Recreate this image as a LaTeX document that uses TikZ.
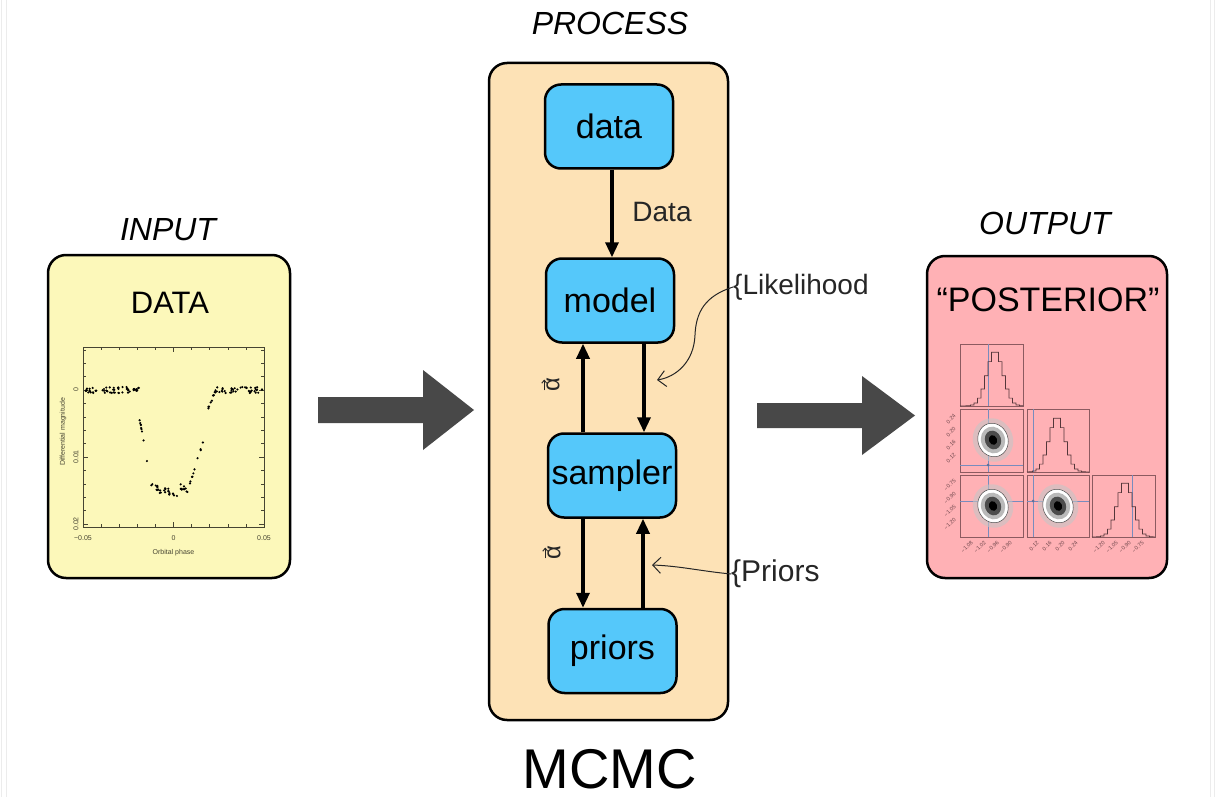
\documentclass[tikz,border=0pt]{standalone}
\usepackage{fontspec}
\setmainfont{Liberation Sans}
\usetikzlibrary{arrows.meta,calc}
\definecolor{inyel}{RGB}{252,248,186}
\definecolor{procpeach}{RGB}{253,226,182}
\definecolor{boxblue}{RGB}{85,200,250}
\definecolor{outpink}{RGB}{255,177,181}
\definecolor{bigarrow}{RGB}{72,72,72}
\definecolor{axol}{RGB}{70,68,50}
\definecolor{cornerred}{RGB}{140,90,96}
\definecolor{truthblue}{RGB}{120,140,190}
\newcommand\cornerhist[4]{%
  \draw[cornerred!60!black, line width=0.6pt] (#1,#3)
    \foreach \k in {-8,...,7} {
      -- ({#4+\k*3.5}, {#3-55*exp(-((\k+0.5)*3.5)^2/(2*64))})
      -- ({#4+(\k+1)*3.5}, {#3-55*exp(-((\k+0.5)*3.5)^2/(2*64))}) }
    -- (#2,#3);}
\newcommand\cornerblob[2]{%
  \begin{scope}[shift={(#1,#2)}, rotate=20]
    \fill[gray!45, opacity=0.6] (0,0) ellipse (20 and 22);
    \fill[white, draw=black!70, line width=0.5pt] (0,0) ellipse (15 and 17);
    \fill[gray!55] (0,0) ellipse (12 and 13.5);
    \fill[black!70] (0,0) ellipse (8 and 9.5);
    \fill[black] (0,0) ellipse (4 and 5);
  \end{scope}}
\tikzset{
  outer/.style={draw=black, line width=2.5pt, rounded corners=18pt, inner sep=0pt},
  stepbox/.style={draw=black, line width=2.5pt, rounded corners=16pt, fill=boxblue,
    minimum width=128pt, minimum height=84pt, inner sep=0pt,
    font=\fontsize{34}{34}\selectfont},
  conn/.style={line width=3.3pt, -{Triangle[length=15pt,width=13pt]}},
  title/.style={font=\fontsize{32}{32}\selectfont\itshape, anchor=base},
  hand/.style={font=\fontsize{28}{28}\selectfont, text=black!85, inner sep=0pt},
  handline/.style={line width=1pt, black!85, -{Straight Barb[length=8pt,width=16pt]}},
  alph/.style={font=\fontsize{24}{24}\selectfont, text=black!85, inner sep=2pt, rotate=90},
  tiny/.style={font=\fontsize{7}{7}\selectfont, text=axol, inner sep=0pt},
  ctick/.style={font=\fontsize{5.5}{5.5}\selectfont, text=cornerred!80!black, inner sep=0pt, rotate=45},
}
\begin{document}
\begin{tikzpicture}[x=1pt,y=-1pt]
\useasboundingbox (0,0) rectangle (1216,797);
\fill[white] (0,0) rectangle (1216,797);
\draw[gray!15, line width=1pt] (1.7,0) -- (1.7,797) (6,0) -- (6,797) (1210,0) -- (1210,797) (1214.3,0) -- (1214.3,797);

% outer boxes
\node[outer, fill=inyel, minimum width=242pt, minimum height=323pt] (input) at (169,416.5) {};
\node[outer, fill=procpeach, minimum width=239pt, minimum height=657pt] (process) at (608.5,391.5) {};
\node[outer, fill=outpink, minimum width=240pt, minimum height=322pt] (output) at (1047,417) {};

\node[title] (tin) at (168,240) {INPUT};
\node[title] (tproc) at (610,35) {PROCESS};
\node[title] (tout) at (1045,234) {OUTPUT};
\node[font=\fontsize{31}{31}\selectfont, anchor=base] (tdata) at (170,313) {DATA};
\node[font=\fontsize{34}{34}\selectfont, anchor=base] (tpost) at (1048,311) {“POSTERIOR”};
\node[font=\fontsize{56}{56}\selectfont, anchor=base, inner sep=0pt] (tmcmc) at (610,788) {MCMC};

% inner steps
\node[stepbox] (data) at (609,126.5) {data};
\node[stepbox] (model) at (610,300.5) {model};
\node[stepbox] (sampler) at (612,475.5) {sampler};
\node[stepbox] (priors) at (612.5,651) {priors};

\draw[conn] ([xshift=3pt]data.south) -- ([xshift=3pt]data.south |- model.north);
\draw[conn] ([xshift=34pt]model.south) -- ([xshift=34pt]model.south |- sampler.north);
\draw[conn] ([xshift=-27pt]model.south |- sampler.north) -- ([xshift=-27pt]model.south);
\draw[conn] ([xshift=-29pt]sampler.south) -- ([xshift=-29pt]sampler.south |- priors.north);
\draw[conn] ([xshift=31pt]sampler.south |- priors.north) -- ([xshift=31pt]sampler.south);

% handwritten labels
\node[hand] (ldata) at (662,212) {Data};
\node[hand, anchor=west] (llik) at (733,287) {\{Likelihood};
\node[hand, anchor=west, font=\fontsize{30}{30}\selectfont] (lpri) at (731,574) {\{Priors};
\node[alph] (la1) at (553,385) {α};
\node[alph] (la2) at (554,553) {α};
\draw[black!85, line width=0.9pt, -{Straight Barb[length=3pt,width=5pt]}]
  ($(la1.north west)!0.2!(la1.north east)$) -- ($(la1.north west)!0.8!(la1.north east)$);
\draw[black!85, line width=0.9pt, -{Straight Barb[length=3pt,width=5pt]}]
  ($(la2.north west)!0.2!(la2.north east)$) -- ($(la2.north west)!0.8!(la2.north east)$);
\coordinate (likend) at (657,380);
\coordinate (priend) at (652,565);
\draw[handline] (llik.west) .. controls (705,296) and (696,312) .. (695,335)
  .. controls (694,362) and (676,377) .. (likend);
\draw[handline] (lpri.west) .. controls (700,571) and (680,566) .. (priend);

% big arrows
\fill[bigarrow] (318,397) -- (423,397) -- (423,370) -- (474,410) -- (423,450) -- (423,423) -- (318,423) -- cycle;
\fill[bigarrow] (757,403) -- (862,403) -- (862,376) -- (915,415.5) -- (862,455) -- (862,428) -- (757,428) -- cycle;

% light curve plot
\draw[axol, line width=0.7pt] (83,347) rectangle (264,527);
\foreach \i in {0,...,10} {
  \pgfmathsetmacro\tl{ifthenelse(mod(\i,5)==0,5,3)}
  \draw[axol, line width=0.5pt] ({83+\i*18.1},527) -- ++(0,-\tl) ({83+\i*18.1},347) -- ++(0,\tl);
}
\foreach \i in {-3,...,10} {
  \pgfmathsetmacro\tl{ifthenelse(mod(\i,5)==0,5,3)}
  \draw[axol, line width=0.5pt] (83,{390+\i*13.4}) -- ++(\tl,0) (264,{390+\i*13.4}) -- ++(-\tl,0);
}
\node[tiny] (xt1) at (83,538) {−0.05};
\node[tiny] (xt2) at (173.5,538) {0};
\node[tiny] (xt3) at (264,538) {0.05};
\node[tiny, rotate=90] (yt1) at (76,390) {0};
\node[tiny, rotate=90] (yt2) at (76,457) {0.01};
\node[tiny, rotate=90] (yt3) at (76,524) {0.02};
\node[tiny, rotate=90] (ylab) at (63,432) {Differential magnitude};
\node[tiny] (xlab) at (173.5,553) {Orbital phase};
\pgfmathsetseed{7}
\foreach \xa/\xb/\ya/\yb/\n/\s in {85/98/390/390/14/3, 100/115/390/390/16/3, 118/131/390/390/14/3, 133/141/390/390/10/3, 139/148/415/468/9/1.5, 151/162/484/492/12/3, 164/178/490/495/14/3, 180/189/486/490/10/3, 190/203/483/443/10/1.5, 207/215/412/391/8/1.5, 214/226/390/390/12/3, 229/238/390/390/10/3, 240/252/390/390/12/3, 254/263/390/390/10/3} {
  \foreach \i in {1,...,\n} {
    \pgfmathsetmacro\px{\xa+(\xb-\xa)*rnd}
    \pgfmathsetmacro\py{\ya+(\yb-\ya)*(\px-\xa)/(\xb-\xa)+\s*rand}
    \fill[black] (\px,\py) circle (1.2);
  }
}

% corner plot
\begin{scope}[line width=0.5pt]
\draw[cornerred] (960,344) rectangle (1023,406);
\draw[cornerred] (960,409) rectangle (1023,472);
\draw[cornerred] (1027,409) rectangle (1089,472);
\draw[cornerred] (960,475) rectangle (1023,537);
\draw[cornerred] (1027,475) rectangle (1089,537);
\draw[cornerred] (1092,475) rectangle (1155,537);
\draw[truthblue] (988,344) -- (988,406) (988,409) -- (988,472) (960,465) -- (1023,465)
  (988,475) -- (988,537) (960,501) -- (1023,501) (1027,501) -- (1089,501)
  (1033,409) -- (1033,472) (1033,475) -- (1033,537) (1132,475) -- (1132,537);
\end{scope}
\cornerhist{960}{1023}{406}{995}
\cornerhist{1027}{1089}{472}{1057}
\cornerhist{1092}{1155}{537}{1125}
\cornerblob{993}{440}
\cornerblob{993}{506}
\cornerblob{1058}{506}
\fill[truthblue!80!black] (988,465) circle (1.5) (1033,501) circle (1.5);
\foreach \t [count=\j] in {0.24,0.20,0.16,0.12} \node[ctick] at (951,{406+\j*13}) {\t};
\foreach \t [count=\j] in {−0.75,−0.90,−1.05,−1.20} \node[ctick] at (950,{472+\j*13}) {\t};
\foreach \t [count=\j] in {−1.08,−1.02,−0.96,−0.90} \node[ctick] at ({954+\j*13},547) {\t};
\foreach \t [count=\j] in {0.12,0.16,0.20,0.24} \node[ctick] at ({1021+\j*13},546) {\t};
\foreach \t [count=\j] in {−1.20,−1.05,−0.90,−0.75} \node[ctick] at ({1086+\j*13},547) {\t};
\end{tikzpicture}
\end{document}
